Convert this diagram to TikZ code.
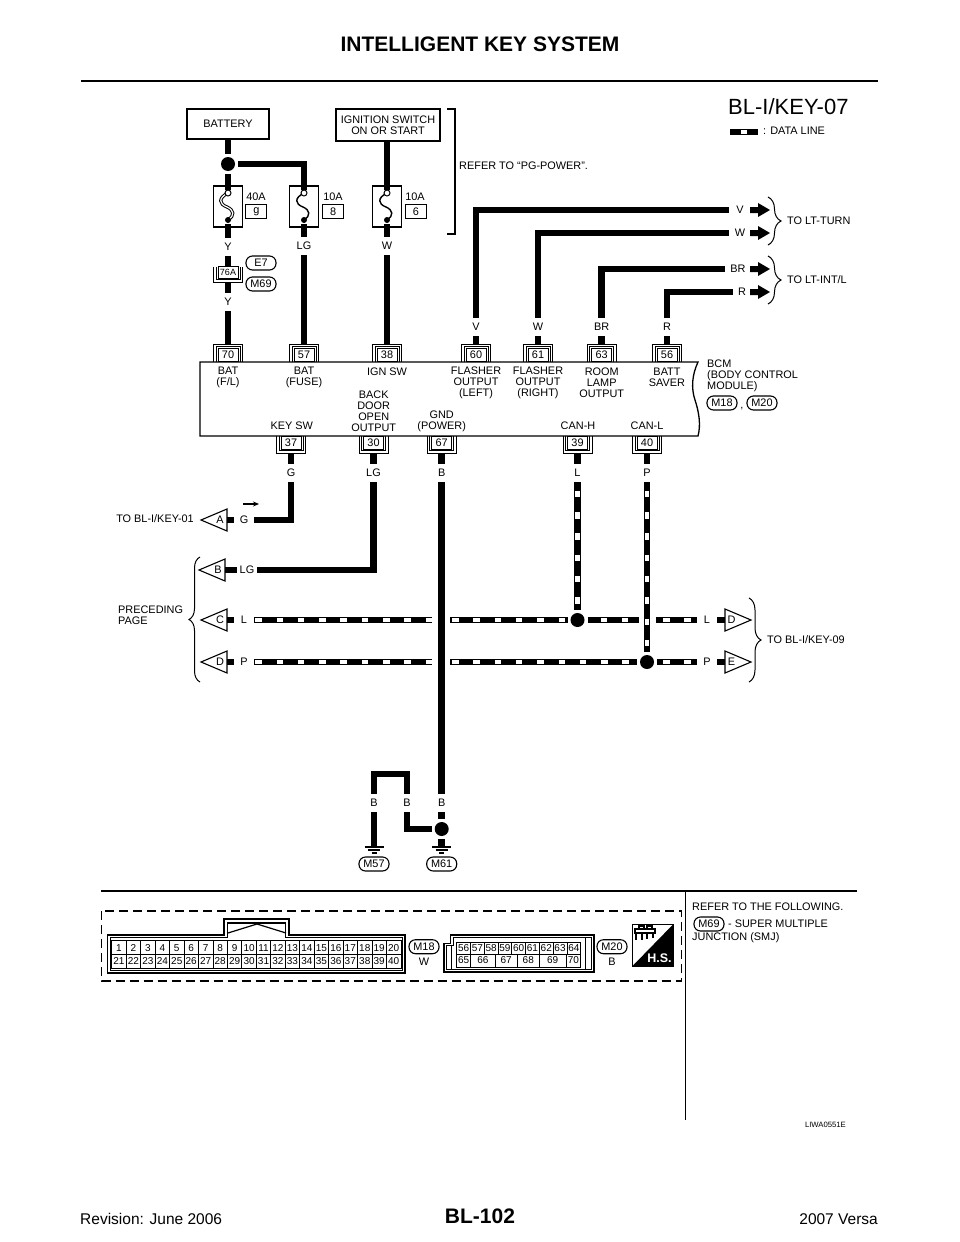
\documentclass[tikz,border=0pt]{standalone}
\usepackage{fontspec}
\setmainfont{Liberation Sans}
\usetikzlibrary{arrows.meta, decorations.pathreplacing}
\tikzset{
  lbl/.style={font=\fontsize{10.9}{11}\selectfont, inner sep=0},
  lab/.style={lbl, minimum width=20, minimum height=18},
  wire/.style={draw=black, line width=6.8, line cap=butt},
  datawire/.style={wire, postaction={draw=white, line width=4.7, dash pattern=on 6.5pt off 14.8pt, dash phase=#1}},
  junc/.style={circle, fill=black, minimum size=14, inner sep=0, outer sep=3},
  pinbox/.style={lbl, draw, line width=1, minimum width=20, minimum height=13},
  pinline/.style={line width=1},
  oval/.style={lbl, draw, line width=1.1, rounded corners=6.5pt, minimum width=30, minimum height=14},
  fuse/.style={draw, line width=1.1, fill=white, inner sep=0, minimum width=29, minimum height=41},
  valbox/.style={lbl, draw, line width=1, minimum width=21, minimum height=14},
  frame/.style={lbl, draw, line width=1.2},
  cell/.style={lbl, draw, line width=.8, font=\fontsize{10}{10}\selectfont},
  cbrace/.style={line width=1, decorate, decoration={brace, amplitude=#1}},
}
\begin{document}
\begin{tikzpicture}[x=1pt, y=-1pt]
  \useasboundingbox (0,0) rectangle (960,1242);
  % page head and foot
  \node [inner sep=0, font=\bfseries\fontsize{21}{22}\selectfont] (title) at (480,44) {INTELLIGENT KEY SYSTEM};
  \draw [line width=2.5] (81,81) -- (878,81);
  \node [inner sep=0, font=\bfseries\fontsize{21}{22}\selectfont] (pageno) at (480,1216) {BL-102};
  \node [inner sep=0, anchor=west, font=\fontsize{15.5}{16}\selectfont] (rev) at (80,1219) {Revision: June 2006};
  \node [inner sep=0, anchor=east, font=\fontsize{15.5}{16}\selectfont] (model) at (878,1219) {2007 Versa};
  \node [inner sep=0, anchor=west, font=\fontsize{22}{23}\selectfont] (code) at (728,107) {BL-I/KEY-07};
  \draw [wire] (730,132) -- (758,132);
  \fill [white] (741,130) rectangle (747,134);
  \node [lbl, anchor=west] (dataline) at (763,131) {: DATA LINE};

  % supply side
  \node [frame, minimum width=82, minimum height=30] (batt) at (228,124) {BATTERY};
  \node [frame, minimum width=104, minimum height=32, align=center] (ign) at (388,125) {IGNITION SWITCH\\ON OR START};
  \node [junc] (jbatt) at (228,164) {};
  \draw [line width=1.2] (447,109) -| (455,234) -- (447,234);
  \node [lbl, anchor=west] (refer) at (459,166) {REFER TO “PG-POWER”.};

  \foreach \x/\n in {228/70, 304/57, 387/38} {
    \node [fuse] (f\n) at (\x,206.5) {};
    \coordinate (ft\n) at (\x,190);
    \coordinate (fb\n) at (\x,220);
    \coordinate (fo\n) at (\x,224);
  }
  \draw [wire] (batt) -- (jbatt);
  \draw [wire] (jbatt) -- (ft70);
  \draw [wire] (jbatt) -| (ft57);
  \draw [wire] (ign.south -| ft38) -- (ft38);
  \foreach \x/\n in {304/57, 387/38} {
    \draw [line width=1.4] (\x,193) .. controls (\x-10,198) and (\x-9,204) .. (\x-1,207) .. controls (\x+6,210) and (\x+7,216) .. (\x,219.5);
  }
  \draw [line width=3.2] (228,193) .. controls (218,198) and (219,204) .. (227,207) .. controls (234,210) and (235,216) .. (228,219.5);
  \draw [line width=1.2, white] (228,193) .. controls (218,198) and (219,204) .. (227,207) .. controls (234,210) and (235,216) .. (228,219.5);
  \foreach \x/\n in {228/70, 304/57, 387/38} {
    \draw [fill=white, line width=1] (\x,193) circle (3);
    \fill (\x,220) circle (3);
  }
  \node [lbl] (a40) at (256,197) {40A};
  \node [valbox] (vg) at (256.3,211.5) {g};
  \node [lbl] (a10a) at (333,197) {10A};
  \node [valbox] (v8) at (333.2,211.5) {8};
  \node [lbl] (a10b) at (415,197) {10A};
  \node [valbox] (v6) at (416,211.5) {6};

  % wire labels
  \node [lab] (ly1) at (228,247) {Y};
  \node [lab] (ly2) at (228,302) {Y};
  \node [lab] (lfuse) at (304,246) {LG};
  \node [lab] (lign) at (387,246) {W};
  \node [lab] (l60) at (476,327) {V};
  \node [lab] (l61) at (538,327) {W};
  \node [lab] (l63) at (601.7,327) {BR};
  \node [lab] (l56) at (667,327) {R};
  \node [lab, minimum width=22] (r60) at (740,210) {V};
  \node [lab, minimum width=22] (r61) at (740,233) {W};
  \node [lab, minimum width=26] (r63) at (738,269) {BR};
  \node [lab, minimum width=18] (r56) at (742,292) {R};

  % inline connector
  \node [pinbox, minimum width=20, minimum height=12, font=\fontsize{9}{9}\selectfont] (c76) at (228,272) {76A};
  \draw [pinline] (213.5,267) |- (242.5,282) -- (242.5,267);
  \draw [pinline] (216,267) |- (240,279.5) -- (240,267);
  \coordinate (c76b) at (228,282);
  \node [oval] (e7) at (261,263) {E7};
  \node [oval] (m69) at (261,284) {M69};

  % BCM
  \draw [line width=1.3] (200,362) -- (698,362) .. controls (692,375) and (691,388) .. (695,400) .. controls (699,412) and (701,425) .. (698,436) -- (200,436) -- cycle;
  \foreach \x/\n in {228/70, 304/57, 387/38, 476/60, 538/61, 601.7/63, 667/56} {
    \node [pinbox, anchor=south] (p\n) at (\x,362) {\n};
    \draw [pinline] (\x-14.5,362) |- (\x+14.5,344) -- (\x+14.5,362);
    \draw [pinline] (\x-12,362) |- (\x+12,346.5) -- (\x+12,362);
    \coordinate (t\n) at (\x,344);
  }
  \foreach \x/\n in {291/37, 373.5/30, 441.7/67, 577.5/39, 647/40} {
    \node [pinbox, anchor=north] (p\n) at (\x,436) {\n};
    \draw [pinline] (\x-14.5,436) |- (\x+14.5,453) -- (\x+14.5,436);
    \draw [pinline] (\x-12,436) |- (\x+12,450.5) -- (\x+12,436);
    \coordinate (t\n) at (\x,453);
  }
  \node [lbl, align=center] (sbat) at (228,377.5) {BAT\\(F/L)};
  \node [lbl, align=center] (sfuse) at (304,377.5) {BAT\\(FUSE)};
  \node [lbl] (sign) at (387,372) {IGN SW};
  \node [lbl, align=center] (sfll) at (476,383) {FLASHER\\OUTPUT\\(LEFT)};
  \node [lbl, align=center] (sflr) at (538,383) {FLASHER\\OUTPUT\\(RIGHT)};
  \node [lbl, align=center] (sroom) at (601.7,383) {ROOM\\LAMP\\OUTPUT};
  \node [lbl, align=center] (ssave) at (667,377.5) {BATT\\SAVER};
  \node [lbl, align=center] (sback) at (373.7,411.5) {BACK\\DOOR\\OPEN\\OUTPUT};
  \node [lbl, align=center] (sgnd) at (441.7,421.5) {GND\\(POWER)};
  \node [lbl] (skey) at (291.7,426) {KEY SW};
  \node [lbl] (scanh) at (578,426) {CAN-H};
  \node [lbl] (scanl) at (647,426) {CAN-L};
  \node [lbl, anchor=west, align=left] (bcm) at (707,376) {BCM\\(BODY CONTROL\\MODULE)};
  \node [oval] (m18a) at (722,403) {M18};
  \node [lbl, anchor=base] (comma) at (742,408) {,};
  \node [oval] (m20a) at (762,403) {M20};

  % upper wires
  \draw [wire] (fo70) -- (ly1);
  \draw [wire] (ly1) -- (c76);
  \draw [wire] (c76b) -- (ly2);
  \draw [wire] (ly2) -- (t70);
  \draw [wire] (fo57) -- (lfuse);
  \draw [wire] (lfuse) -- (t57);
  \draw [wire] (fo38) -- (lign);
  \draw [wire] (lign) -- (t38);
  \foreach \n in {60, 61, 63, 56} {
    \draw [wire] (l\n) -- (t\n);
    \draw [wire] (l\n) |- (r\n);
  }
  \foreach \y in {210, 233, 269, 292} {
    \fill (750,\y-3) -- (758,\y-3) -- (758,\y-7) -- (770,\y) -- (758,\y+7) -- (758,\y+3) -- (750,\y+3) -- cycle;
  }
  \draw [cbrace=13pt] (768,197) -- (768,245);
  \draw [cbrace=13pt] (768,256) -- (768,304);
  \node [lbl, anchor=west] (turn) at (787,221) {TO LT-TURN};
  \node [lbl, anchor=west] (intl) at (787,280) {TO LT-INT/L};

  % lower wires
  \node [lab] (b37) at (291,473) {G};
  \node [lab] (b30) at (373.5,473) {LG};
  \node [lab] (b67) at (441.7,473) {B};
  \node [lab] (b39) at (577.5,473) {L};
  \node [lab] (b40) at (647,473) {P};
  \foreach \n in {37, 30, 67, 39, 40} {
    \draw [wire] (t\n) -- (b\n);
  }
  \node [lab] (la) at (244,520) {G};
  \node [lab] (lb) at (247,570) {LG};
  \node [lab] (lc) at (244,620) {L};
  \node [lab] (ld) at (244,662) {P};
  \foreach \t/\y/\b/\p in {A/520/227/201, C/620/227/201, D/662/227/201, B/570/225/199} {
    \draw [line width=1.1] (\b,\y-11) -- (\p,\y) -- (\b,\y+11) -- cycle;
    \node [lbl] (n\t) at (\b-7,\y) {\t};
    \coordinate (s\t) at (\b,\y);
  }
  \foreach \lw/\up in {a/A, b/B, c/C, d/D} {
    \draw [wire] (l\lw) -- (s\up);
  }
  \draw [wire] (b37) |- (la);
  \draw [wire] (b30) |- (lb);
  \coordinate (ga) at (243,504);
  \coordinate (gb) at (259,504);
  \draw [line width=1.1, -{Stealth[length=6pt, width=5pt]}] (ga) -- (gb);
  \node [lbl, anchor=east] (tokey1) at (194,519) {TO BL-I/KEY-01};
  \node [lbl, anchor=west, align=left] (prec) at (118,615.5) {PRECEDING\\PAGE};
  \draw [cbrace=11pt] (200,682) -- (200,557);

  \node [lab] (rl) at (707,620) {L};
  \node [lab] (rp) at (707,662) {P};
  \foreach \t/\y in {D/620, E/662} {
    \draw [line width=1.1] (725,\y-11) -- (751,\y) -- (725,\y+11) -- cycle;
    \node [lbl] (q\t) at (731.5,\y) {\t};
    \coordinate (u\t) at (725,\y);
  }
  \draw [wire] (rl) -- (uD);
  \draw [wire] (rp) -- (uE);
  \draw [cbrace=12pt] (749,598) -- (749,682);
  \node [lbl, anchor=west] (tokey9) at (767,640) {TO BL-I/KEY-09};

  \node [junc] (jl) at (577.5,620) {};
  \node [junc] (jp) at (647,662) {};
  \coordinate (lgap1) at (432,620);
  \coordinate (lgap2) at (450,620);
  \coordinate (lgap3) at (639,620);
  \coordinate (lgap4) at (656,620);
  \coordinate (pgap1) at (432,662);
  \coordinate (pgap2) at (450,662);
  \draw [datawire=20.3] (lc) -- (lgap1);
  \draw [datawire=19.3] (lgap2) -- (jl);
  \draw [datawire=8.3] (jl) -- (lgap3);
  \draw [datawire=14.3] (lgap4) -- (rl);
  \draw [datawire=20.3] (ld) -- (pgap1);
  \draw [datawire=19.3] (pgap2) -- (jp);
  \draw [datawire=15.3] (jp) -- (rp);
  \draw [datawire=12.8] (b39) -- (jl);
  \draw [datawire=12.8] (b40) -- (jp);

  % grounds
  \node [lab] (g1) at (374,803) {B};
  \node [lab] (g2) at (407,803) {B};
  \node [lab] (g3) at (441.7,803) {B};
  \node [junc] (j61) at (441.7,829) {};
  \draw [wire] (b67) -- (g3);
  \draw [wire] (g3) -- (j61);
  \coordinate (loopa) at (374,774);
  \coordinate (loopb) at (407,774);
  \draw [wire] (g1) -- (loopa) -- (loopb) -- (g2);
  \draw [wire] (g2) |- (j61);
  \foreach \x/\n in {374/57, 441.7/61} {
    \coordinate (gnd\n) at (\x,847);
    \draw [line width=1.2] (\x-9.5,847) -- (\x+9.5,847);
    \draw [line width=1.2] (\x-6,850) -- (\x+6,850);
    \draw [line width=1.2] (\x-2.5,853) -- (\x+2.5,853);
    \node [oval] (m\n) at (\x,864) {M\n};
  }
  \draw [wire] (g1) -- (gnd57);
  \draw [wire] (j61) -- (gnd61);

  % connector views
  \draw [line width=1.5] (101,891) -- (857,891);
  \draw [line width=1.5] (685.5,891) -- (685.5,1120);
  \draw [line width=1.4, dash pattern=on 9pt off 5pt] (101.7,911) rectangle (681.7,981);
  \draw [line width=1.2] (107.7,935) -- (224,935) -- (224,919) -- (289,919) -- (289,935) -- (405,935) -- (405,973) -- (107.7,973) -- cycle;
  \draw [line width=1.2] (110.2,937.5) -- (227.5,937.5) -- (227.5,923) -- (285.5,923) -- (285.5,937.5) -- (402.5,937.5) -- (402.5,970.5) -- (110.2,970.5) -- cycle;
  \draw [line width=1.2] (228,933) -- (257,924) -- (286,933);
  \foreach \i in {1,...,20} {
    \node [cell, minimum width=14.46, minimum height=13.8] (pa\i) at ({111.7+14.46*(\i-.5)},947.6) {\i};
    \pgfmathtruncatemacro{\j}{\i+20}
    \node [cell, minimum width=14.46, minimum height=13.8] (pa\j) at ({111.7+14.46*(\i-.5)},961.4) {\j};
  }
  \node [oval] (m18b) at (424,946.7) {M18};
  \node [lbl] (w18) at (424,961.7) {W};

  \draw [line width=1.2] (444,972) -- (444,943.3) -- (450.7,943.3) -- (450.7,935) -- (594,935) -- (594,972) -- cycle;
  \draw [line width=1.2] (446.5,969.5) -- (446.5,945.8) -- (453.2,945.8) -- (453.2,937.5) -- (591.5,937.5) -- (591.5,969.5) -- cycle;
  \draw [line width=.8] (451,945.8) -- (451,969.5);
  \draw [line width=.8] (585.5,937.5) -- (585.5,969.5);
  \foreach \n [count=\i] in {56,...,64} {
    \node [cell, minimum width=13.78, minimum height=12] (pb\n) at ({456.7+13.78*(\i-.5)},948) {\n};
  }
  \foreach \a/\b/\n in {456.7/470.7/65, 470.7/495/66, 495/517.3/67, 517.3/539.3/68, 539.3/566/69, 566/580.7/70} {
    \pgfmathsetmacro{\w}{\b-\a}
    \node [cell, minimum width=\w, minimum height=13] (pb\n) at ({(\a+\b)/2},960.5) {\n};
  }
  \node [oval] (m20b) at (612,946.7) {M20};
  \node [lbl] (b20) at (612,961.7) {B};

  \draw [line width=1] (632.5,924) rectangle (673.5,966);
  \fill (673.5,924) -- (673.5,966) -- (632.5,966) -- cycle;
  \node [inner sep=0, white, font=\bfseries\fontsize{12.5}{13}\selectfont] (hs) at (659.5,958) {H.S.};
  \draw [line width=1.3] (635,929) rectangle (655,933) (636,933) -- (636,940) (642,933) -- (642,940) (647,933) -- (647,939) (653,933) -- (653,938) (639,926) rectangle (644,929) (647,926) rectangle (652,929);

  \node [lbl, anchor=west] (refer2) at (692,907) {REFER TO THE FOLLOWING.};
  \node [oval] (m69b) at (709,924) {M69};
  \node [lbl, anchor=west] (smj) at (728,924) {- SUPER MULTIPLE};
  \node [lbl, anchor=west] (junc) at (692,938) {JUNCTION (SMJ)};
  \node [inner sep=0, anchor=east, font=\fontsize{7.7}{8}\selectfont] (liwa) at (846,1125) {LIWA0551E};
\end{tikzpicture}
\end{document}
